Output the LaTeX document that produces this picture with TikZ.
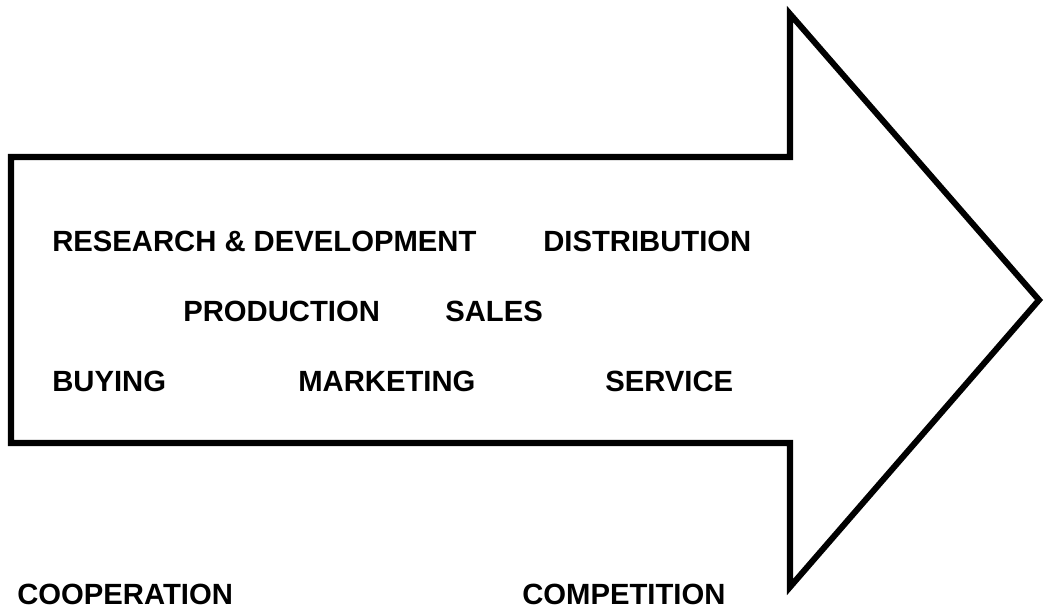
\documentclass[tikz,border=0pt]{standalone}
\usepackage{fontspec}
\setmainfont{Liberation Sans}
\usetikzlibrary{positioning}

\tikzset{
    func/.style={anchor=west, inner sep=0pt, font=\fontsize{20.8}{24}\selectfont\bfseries},
    bigarrow/.style={draw, line width=4.3pt, line join=miter}
}

\begin{document}
\begin{tikzpicture}[x=0.025cm, y=-0.025cm]
        \useasboundingbox (0, 0) rectangle (1045, 611);

        \draw[bigarrow] (11, 157) -- (790, 157) -- (790, 14) -- (1039, 300)
            -- (790, 587) -- (790, 443) -- (11, 443) -- cycle;

        \node[func] (rd) at (52, 241) {RESEARCH \& DEVELOPMENT};
        \node[func] (dist) at (543, 241) {DISTRIBUTION};
        \node[func] (prod) at (183, 311) {PRODUCTION};
        \node[func] (sales) at (445, 311) {SALES};
        \node[func] (buy) at (52, 381) {BUYING};
        \node[func] (mkt) at (298, 381) {MARKETING};
        \node[func] (serv) at (605, 381) {SERVICE};

        \node[func] (coop) at (17, 594) {COOPERATION};
        \node[func] (comp) at (522, 594) {COMPETITION};
    \end{tikzpicture}
\end{document}
